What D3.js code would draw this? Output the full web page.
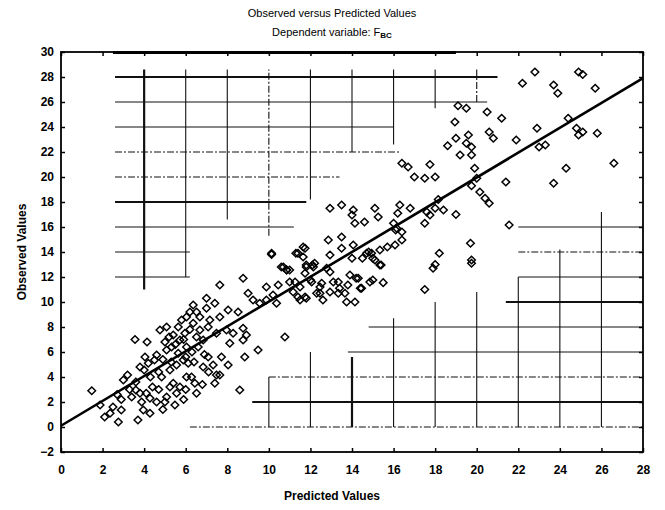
<!DOCTYPE html>
<html><head><meta charset="utf-8">
<script src="https://cdn.jsdelivr.net/npm/d3@7"></script>
<style>body{margin:0;background:#fff}svg{display:block}text{font-family:"Liberation Sans",Arial,sans-serif}</style>
</head><body><svg id="c" width="665" height="510"></svg>
<script>
const title = "Observed versus Predicted Values";
const subtitle = "Dependent variable: F";
const subtitleSub = "BC";
const xLabel = "Predicted Values";
const yLabel = "Observed Values";
const xTicks = [0,2,4,6,8,10,12,14,16,18,20,22,24,26,28];
const yTicks = [-2,0,2,4,6,8,10,12,14,16,18,20,22,24,26,28,30];
const fitIntercept = 0.1;
const fitSlope = 0.993;

const predicted = [
1.48,1.88,2.1,2.36,2.76,2.5,2.9,2.9,3.0,3.2,3.4,3.7,3.56,4.14,3.6,3.88,3.96,4.28,3.8,4.1,4.28,4.6,3.8,4.0,4.2,4.04,4.5,4.6,4.76,5.08,
4.84,5.0,5.08,5.24,5.48,5.4,5.56,5.72,5.24,5.56,5.08,5.32,5.64,5.4,5.64,5.8,6.04,5.72,5.96,6.04,5.88,6.12,6.04,6.28,6.44,6.52,6.36,6.2,6.52,6.68,
6.36,6.68,6.52,6.84,7.0,7.0,7.16,7.08,7.4,7.64,7.48,7.08,6.84,7.32,7.48,7.4,7.64,7.72,8.04,7.96,8.04,8.12,8.28,8.6,8.84,8.76,8.92,8.52,8.76,9.48,
7.64,8.76,9.88,9.56,9.88,9.0,9.24,10.2,10.45,10.37,10.6,10.85,11.0,11.17,11.4,11.5,11.8,10.77,10.13,11.3,11.8,
4.3,4.7,4.9,5.0,5.2,5.5,5.9,6.2,6.3,6.6,6.0,6.4,6.9,5.3,4.4,4.7,6.8,7.1,3.3,3.6,2.7,6.0,5.9,4.9,
10.13,11.4,11.65,11.74,12.86,13.5,14.06,13.5,12.94,14.0,14.5,14.8,14.94,15.34,15.7,16.07,16.4,16.1,16.4,16.0,
15.1,15.4,13.9,14.2,14.86,15.0,15.5,14.4,13.8,13.34,13.34,13.66,12.94,12.78,12.54,12.14,11.74,11.26,10.86,10.7,
12.06,12.46,12.94,11.74,11.65,12.1,12.0,12.46,13.1,13.4,14.14,13.74,14.46,14.3,12.6,12.3,11.5,15.0,15.34,14.7,12.2,11.8,11.0,
12.94,13.5,14.06,15.1,14.14,14.6,15.26,14.0,16.3,16.8,16.2,17.6,18.0,18.4,19.0,17.5,17.75,16.15,
16.4,16.7,17.75,17.0,17.5,18.0,18.15,
17.5,17.9,18.0,18.2,19.7,19.75,19.75,
19.1,19.5,20.5,21.2,18.95,20.6,20.8,21.9,19.0,19.6,19.5,19.75,18.6,19.2,19.75,19.9,20.0,19.75,20.15,20.4,20.6,21.4,21.56,
22.8,22.2,24.9,25.1,23.7,23.9,25.7,22.9,23.0,23.3,24.4,24.8,24.9,25.1,25.8,24.3,23.7,26.6
];
const observed = [
2.9,1.76,0.8,1.1,0.4,1.6,1.36,2.2,3.76,4.16,2.4,0.56,7.0,6.8,2.96,2.0,1.36,1.1,2.7,2.7,2.3,2.0,4.8,4.56,5.1,5.6,5.36,5.76,7.76,8.0,
4.0,2.0,2.4,3.2,1.76,3.5,2.7,3.2,4.56,4.96,6.16,6.4,5.9,7.36,8.0,8.56,8.8,6.96,7.5,6.4,5.36,5.1,4.0,4.0,3.5,2.7,9.76,9.2,9.2,8.8,
8.3,7.76,7.2,6.96,10.3,9.5,8.56,8.0,9.9,8.8,7.5,5.6,4.8,4.96,4.16,3.5,4.16,5.6,4.96,7.76,9.36,6.7,7.5,2.96,5.6,6.96,7.36,9.2,7.9,6.16,
11.36,11.9,11.2,9.9,10.16,10.7,10.16,10.56,11.36,9.9,12.8,12.56,11.6,10.8,10.4,11.2,10.3,7.2,13.8,13.9,12.96,
4.0,4.4,5.4,6.8,7.2,6.6,7.0,7.8,6.0,6.4,5.6,5.2,5.8,5.2,3.2,3.0,3.4,4.4,3.0,3.6,2.6,3.0,2.2,1.4,
13.9,13.9,14.4,14.3,14.96,15.2,14.56,14.3,13.76,13.5,13.5,14.0,13.9,14.16,14.4,14.56,14.96,15.76,15.6,16.3,
13.36,12.96,12.16,11.9,11.6,11.76,11.55,11.1,11.36,11.6,10.7,10.7,12.4,12.7,11.5,12.8,12.3,11.6,12.56,12.8,
11.6,10.7,10.8,10.4,13.6,12.96,11.76,11.2,11.6,11.1,10.0,10.0,11.1,11.9,10.16,10.7,10.16,13.5,12.96,13.9,13.1,12.8,12.56,
17.5,17.76,17.36,17.5,16.3,16.4,16.8,16.96,17.76,17.5,17.1,17.2,17.5,17.36,17.0,16.3,16.96,15.9,
21.1,20.8,21.0,20.0,19.9,20.0,18.2,
11.0,12.7,13.0,13.9,14.7,13.36,13.1,
25.7,25.5,25.2,24.7,24.4,23.6,23.1,22.96,23.1,23.36,22.7,22.4,22.5,21.76,21.76,20.7,19.9,19.3,18.8,18.3,17.9,19.6,16.16,
28.4,27.5,28.4,28.2,27.36,26.7,27.1,23.9,22.4,22.56,24.7,23.9,23.36,23.6,23.5,20.7,19.5,21.1
];

// partial grid segments (as they appear in the reference): value, from, to
const gridH = [
 {v:28,a:2.6,b:21,w:2},{v:26,a:2.6,b:20.5,w:1},{v:24,a:2.6,b:16,w:1},{v:22,a:2.6,b:16.3,w:1,d:true},
 {v:20,a:2.6,b:13.4,w:1,d:true},{v:18,a:2.6,b:11.8,w:2},{v:16,a:2.6,b:11.2,w:1},{v:14,a:2.6,b:6.2,w:1},{v:12,a:2.6,b:6.2,w:1},
 {v:0,a:6.2,b:28,w:1,d:true},{v:2,a:9.2,b:28,w:2},{v:4,a:10,b:28,w:1,d:true},{v:6,a:13.8,b:28,w:1},{v:8,a:14.8,b:28,w:1},
 {v:10,a:21.4,b:28,w:2},{v:12,a:22,b:28,w:1},{v:14,a:22,b:28,w:1,d:true},{v:16,a:22,b:28,w:1}
];
const gridV = [
 {v:4,a:11,b:28.6,w:2},{v:6,a:12,b:28.6,w:1},{v:8,a:16.6,b:28.6,w:1},{v:10,a:15.3,b:28.6,w:1,d:true},
 {v:12,a:18.2,b:28.6,w:1},{v:14,a:22,b:28.6,w:1},{v:16,a:22.6,b:28.6,w:1},{v:18,a:25.5,b:28.6,w:1},{v:20,a:26,b:28.6,w:1,d:true},
 {v:10,a:0,b:4,w:1},{v:12,a:0,b:6,w:1},{v:14,a:0,b:5.6,w:2},{v:16,a:0,b:8.7,w:1},{v:18,a:0,b:10,w:1},
 {v:20,a:0,b:10.8,w:1},{v:22,a:0,b:12,w:1},{v:24,a:0,b:14.2,w:1},{v:26,a:0,b:17.2,w:1}
];

const svg = d3.select("#c");
const x = d3.scaleLinear().domain([0,28]).range([61,643]);
const y = d3.scaleLinear().domain([-2,30]).range([452,52]);

// grid
const g = svg.append("g").attr("stroke","#111").attr("fill","none");
g.selectAll("line.h").data(gridH).join("line").attr("class","h")
  .attr("x1",d=>x(d.a)).attr("x2",d=>x(d.b)).attr("y1",d=>y(d.v)).attr("y2",d=>y(d.v))
  .attr("stroke-width",d=>d.w===2?2.2:1.1).attr("stroke-dasharray",d=>d.d?"7,2,2,2":null);
g.selectAll("line.v").data(gridV).join("line").attr("class","v")
  .attr("y1",d=>y(d.a)).attr("y2",d=>y(d.b)).attr("x1",d=>x(d.v)).attr("x2",d=>x(d.v))
  .attr("stroke-width",d=>d.w===2?2.2:1.1).attr("stroke-dasharray",d=>d.d?"7,2,2,2":null);

// axes
const fs = "12px";
const ax = svg.append("g").attr("transform",`translate(0,${y(-2)})`)
  .call(d3.axisBottom(x).tickValues(xTicks).tickFormat(d3.format("d")).tickSizeInner(-4).tickSizeOuter(0).tickPadding(13));
const ay = svg.append("g").attr("transform",`translate(${x(0)},0)`)
  .call(d3.axisLeft(y).tickValues(yTicks).tickFormat(d3.format("d")).tickSizeInner(-4).tickSizeOuter(0).tickPadding(7));
const at = svg.append("g").attr("transform",`translate(0,${y(30)})`)
  .call(d3.axisTop(x).tickValues(xTicks).tickFormat("").tickSizeInner(-4).tickSizeOuter(0));
const ar = svg.append("g").attr("transform",`translate(${x(28)},0)`)
  .call(d3.axisRight(y).tickValues(yTicks).tickFormat("").tickSizeInner(-4).tickSizeOuter(0));
[ax,ay,at,ar].forEach(a=>{
  a.select(".domain").remove();
  a.selectAll(".tick line").attr("stroke","#000").attr("stroke-width",1.5);
  a.selectAll("text").attr("font-size",fs).attr("font-weight","bold").attr("fill","#000")
   .attr("font-family","'Liberation Sans',Arial,sans-serif");
});

// frame
svg.append("rect").attr("x",x(0)).attr("y",y(30)).attr("width",x(28)-x(0)).attr("height",y(-2)-y(30))
  .attr("fill","none").attr("stroke","#000").attr("stroke-width",1.8);
svg.append("line").attr("x1",x(2.5)).attr("x2",x(19)).attr("y1",y(30)+0.5).attr("y2",y(30)+0.5)
  .attr("stroke","#000").attr("stroke-width",3);

// points
const pts = predicted.map((p,i)=>({p,o:observed[i]}));
const r = 3.8;
svg.append("g").selectAll("path").data(pts).join("path")
  .attr("transform",d=>`translate(${x(d.p)},${y(d.o)})`)
  .attr("d",`M0,${-r}L${r},0L0,${r}L${-r},0Z`)
  .attr("fill","none").attr("stroke","#000").attr("stroke-width",1.5);

// regression line
svg.append("line").attr("x1",x(0)).attr("y1",y(fitIntercept)).attr("x2",x(28)).attr("y2",y(fitIntercept+fitSlope*28))
  .attr("stroke","#000").attr("stroke-width",2.6);

// titles
svg.append("text").attr("x",332).attr("y",17).attr("text-anchor","middle").attr("font-size","11px").text(title);
const st = svg.append("text").attr("x",332).attr("y",36).attr("text-anchor","middle").attr("font-size","11px");
st.append("tspan").text(subtitle);
st.append("tspan").attr("font-size","8px").attr("font-weight","bold").attr("dy",2).text(subtitleSub);
svg.append("text").attr("x",332).attr("y",500).attr("text-anchor","middle").attr("font-size","12px").attr("font-weight","bold").text(xLabel);
svg.append("text").attr("transform",`translate(26,${y(14)}) rotate(-90)`).attr("text-anchor","middle")
  .attr("font-size","12px").attr("font-weight","bold").text(yLabel);
</script></body></html>
